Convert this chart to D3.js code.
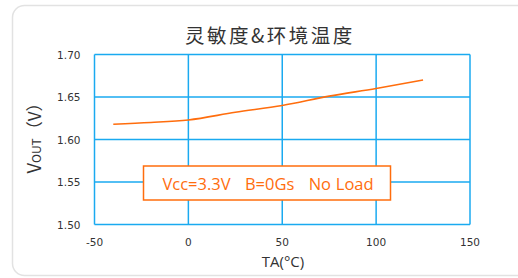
<!DOCTYPE html>
<html>
<head>
<meta charset="utf-8">
<script src="https://cdn.jsdelivr.net/npm/d3@7"></script>
<style>
  body { margin: 0; background: #fff; }
  svg { display: block; font-family: "Open Sans", "Noto Sans", sans-serif; }
</style>
</head>
<body>
<div id="chart"></div>
<script>
const temps = [-40, -20, 0, 25, 50, 75, 100, 125];
const vout = [1.618, 1.620, 1.623, 1.632, 1.640, 1.651, 1.660, 1.670];
const xTicks = [-50, 0, 50, 100, 150];
const yTicks = [1.50, 1.55, 1.60, 1.65, 1.70];
const title = '灵敏度&环境温度';
const legendText = 'Vcc=3.3V   B=0Gs   No Load';

const width = 518, height = 278;
const margin = { left: 94.5, right: 48, top: 54.5, bottom: 53.5 };
const gridColor = '#1aaaf0';
const orange = '#ff6d0d';

const svg = d3.select('#chart')
  .append('svg')
  .attr('width', width)
  .attr('height', height);

// card
svg.append('rect')
  .attr('x', 12.5).attr('y', 5.5)
  .attr('width', 540).attr('height', 270)
  .attr('rx', 12)
  .attr('fill', '#fff')
  .attr('stroke', '#e2e2e2')
  .attr('stroke-width', 1.5);

const x = d3.scaleLinear().domain([-50, 150]).range([margin.left, width - margin.right]);
const y = d3.scaleLinear().domain([1.50, 1.70]).range([height - margin.bottom, margin.top]);

// grid
svg.append('g')
  .selectAll('line.v')
  .data(xTicks)
  .enter()
  .append('line')
  .attr('x1', d => x(d)).attr('x2', d => x(d))
  .attr('y1', y(1.70)).attr('y2', y(1.50))
  .attr('stroke', gridColor)
  .attr('stroke-width', 1.5);

svg.append('g')
  .selectAll('line.h')
  .data(yTicks)
  .enter()
  .append('line')
  .attr('x1', x(-50)).attr('x2', x(150))
  .attr('y1', d => y(d)).attr('y2', d => y(d))
  .attr('stroke', gridColor)
  .attr('stroke-width', 1.5);

// tick labels
svg.append('g')
  .selectAll('text')
  .data(yTicks)
  .enter()
  .append('text')
  .attr('x', 80.5)
  .attr('y', d => y(d) + 4)
  .attr('text-anchor', 'end')
  .attr('font-family', '"DejaVu Sans", sans-serif')
  .attr('font-size', 10.5)
  .attr('fill', '#333')
  .text(d => d3.format('.2f')(d));

svg.append('g')
  .selectAll('text')
  .data(xTicks)
  .enter()
  .append('text')
  .attr('x', d => x(d))
  .attr('y', 246)
  .attr('text-anchor', 'middle')
  .attr('font-family', '"DejaVu Sans", sans-serif')
  .attr('font-size', 10.5)
  .attr('fill', '#333')
  .text(d => d);

// line
const line = d3.line()
  .x((d, i) => x(temps[i]))
  .y(d => y(d))
  .curve(d3.curveMonotoneX);

svg.append('path')
  .datum(vout)
  .attr('d', line)
  .attr('fill', 'none')
  .attr('stroke', orange)
  .attr('stroke-width', 1.6);

// legend box
svg.append('rect')
  .attr('x', 143.5).attr('y', 166)
  .attr('width', 247).attr('height', 34)
  .attr('fill', '#fff')
  .attr('stroke', orange)
  .attr('stroke-width', 1.5);

svg.append('text')
  .attr('x', 268)
  .attr('y', 189.5)
  .attr('text-anchor', 'middle')
  .attr('font-size', 16.5)
  .attr('fill', orange)
  .style('white-space', 'pre')
  .style('word-spacing', '0.5px')
  .text(legendText);

// title
svg.append('text')
  .attr('x', 270)
  .attr('y', 43)
  .attr('text-anchor', 'middle')
  .attr('font-family', '"Noto Sans CJK SC", sans-serif')
  .attr('font-size', 19.5)
  .attr('letter-spacing', 2.5)
  .attr('fill', '#333')
  .text(title);

// axis titles
svg.append('text')
  .attr('x', 283)
  .attr('y', 267)
  .attr('text-anchor', 'middle')
  .attr('font-size', 15)
  .attr('fill', '#333')
  .text('TA(°C)');

const yt = svg.append('text')
  .attr('transform', 'translate(41,134) rotate(-90)')
  .attr('text-anchor', 'middle')
  .attr('font-family', '"Noto Sans CJK SC", sans-serif')
  .attr('fill', '#333');
yt.append('tspan').attr('font-size', 18.5).text('V');
yt.append('tspan').attr('font-size', 12).text('OUT');
yt.append('tspan').attr('font-size', 17).text('（V）');
</script>
</body>
</html>
